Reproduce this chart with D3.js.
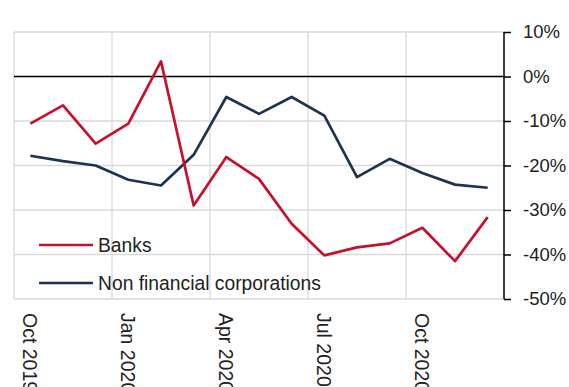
<!DOCTYPE html>
<html>
<head>
<meta charset="utf-8">
<script src="https://cdn.jsdelivr.net/npm/d3@7"></script>
<style>
  body { margin: 0; background: #fff; }
  svg { display: block; font-family: 'Liberation Sans', Arial, sans-serif; }
</style>
</head>
<body>
<svg class="chart"></svg>
<script>
const graphWidth = 569;
const graphHeight = 387;

// Data, monthly year-on-year change (%)
const months = ['Oct 2019', 'Nov 2019', 'Dec 2019', 'Jan 2020', 'Feb 2020', 'Mar 2020', 'Apr 2020',
  'May 2020', 'Jun 2020', 'Jul 2020', 'Aug 2020', 'Sep 2020', 'Oct 2020', 'Nov 2020', 'Dec 2020'];
const banks = [-10.6, -6.5, -15.1, -10.6, 3.4, -29.0, -18.1, -23.0, -33.1, -40.2, -38.4, -37.5, -34.0, -41.5, -31.6];
const nonFinancial = [-17.8, -19.0, -20.0, -23.2, -24.5, -17.6, -4.6, -8.4, -4.6, -8.8, -22.6, -18.5, -21.7, -24.3, -25.0];
const xTickLabels = ['Oct 2019', 'Jan 2020', 'Apr 2020', 'Jul 2020', 'Oct 2020'];
const yTicks = [10, 0, -10, -20, -30, -40, -50];

const series = [
  { name: 'Banks', values: banks, color: '#c8102e' },
  { name: 'Non financial corporations', values: nonFinancial, color: '#1e3350' }
];

const margin = { left: 14, right: 65, top: 32, bottom: 88 };
const width = graphWidth - margin.left - margin.right;
const height = graphHeight - margin.top - margin.bottom;

const svg = d3
  .select('.chart')
  .attr('width', graphWidth)
  .attr('height', graphHeight);

const g = svg.append('g').attr('transform', 'translate(' + margin.left + ',' + margin.top + ')');

const x = d3.scaleBand().domain(months).range([0, width]);
const y = d3.scaleLinear().domain([-50, 10]).range([height, 0]);
const cx = d => x(d) + x.bandwidth() / 2;

//Gridlines
g.append('g')
  .selectAll('line')
  .data(yTicks)
  .enter()
  .append('line')
  .attr('x1', 0)
  .attr('x2', width)
  .attr('y1', d => y(d))
  .attr('y2', d => y(d))
  .attr('stroke', '#d9d9d9')
  .attr('stroke-width', 1.3);

g.append('g')
  .selectAll('line')
  .data(months.filter((d, i) => i % 3 === 0))
  .enter()
  .append('line')
  .attr('x1', d => x(d))
  .attr('x2', d => x(d))
  .attr('y1', 0)
  .attr('y2', height)
  .attr('stroke', '#d9d9d9')
  .attr('stroke-width', 1.3);

//Zero line
g.append('line')
  .attr('x1', 0)
  .attr('x2', width)
  .attr('y1', y(0))
  .attr('y2', y(0))
  .attr('stroke', '#000')
  .attr('stroke-width', 1.5);

//Right axis
const yAxis = g
  .append('g')
  .attr('transform', 'translate(' + width + ',0)')
  .call(d3.axisRight(y).tickValues(yTicks).tickSize(7).tickPadding(12).tickFormat(d => d + '%'));
yAxis.select('.domain').attr('d', 'M0,' + y(10) + 'V' + y(-50)).attr('stroke-width', 1.5);
yAxis.selectAll('.tick line').attr('stroke-width', 1.5);
yAxis
  .selectAll('.tick text')
  .style('font-size', '18.5px')
  .style('font-family', "'Liberation Sans', Arial, sans-serif")
  .attr('fill', '#222');

//Category labels, rotated
g.append('g')
  .selectAll('text')
  .data(xTickLabels)
  .enter()
  .append('text')
  .attr('transform', d => 'translate(' + (cx(d) - 1) + ',' + (height + 14) + ') rotate(90)')
  .attr('dy', '0.35em')
  .attr('text-anchor', 'start')
  .style('font-size', '19.5px')
  .attr('fill', '#222')
  .text(d => d);

//Lines
const line = d3
  .line()
  .x((d, i) => cx(months[i]))
  .y(d => y(d));

g.append('g')
  .selectAll('path')
  .data(series.slice().reverse())
  .enter()
  .append('path')
  .attr('d', d => line(d.values))
  .attr('fill', 'none')
  .attr('stroke', d => d.color)
  .attr('stroke-width', 2.7)
  .attr('stroke-linejoin', 'round');

//Legend
const legend = g
  .append('g')
  .selectAll('g')
  .data(series)
  .enter()
  .append('g')
  .attr('transform', (d, i) => 'translate(25,' + (213 + i * 38) + ')');

legend
  .append('line')
  .attr('x1', 0)
  .attr('x2', 54)
  .attr('stroke', d => d.color)
  .attr('stroke-width', 2.7);

legend
  .append('text')
  .attr('x', 59)
  .attr('dy', '0.35em')
  .style('font-size', '19.3px')
  .attr('fill', '#222')
  .text(d => d.name);
</script>
</body>
</html>
